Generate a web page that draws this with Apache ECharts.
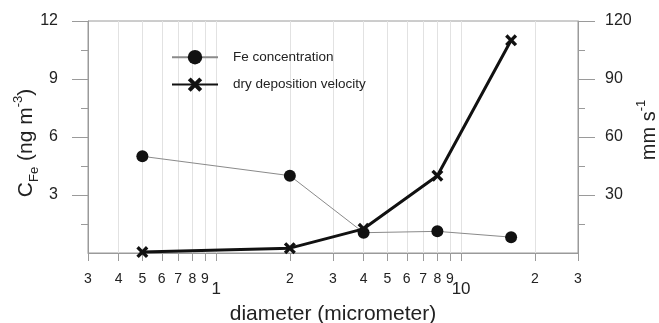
<!DOCTYPE html>
<html>
<head>
<meta charset="utf-8">
<script src="https://cdn.jsdelivr.net/npm/echarts@6/dist/echarts.min.js"></script>
<style>
html,body{margin:0;padding:0;background:#fff;}
#chart{width:659px;height:323px;}
</style>
</head>
<body>
<div id="chart"></div>
<script>
// ---- data ----
const diameters = [0.5, 2, 4, 8, 16];
const feConcentration = [5.0, 4.0, 1.05, 1.12, 0.82];
const depositionVelocity = [0.5, 2.5, 12.5, 40, 110];
const xTickValues = [0.3,0.4,0.5,0.6,0.7,0.8,0.9,1,2,3,4,5,6,7,8,9,10,20,30];
const xTickLabels = ['3','4','5','6','7','8','9','1','2','3','4','5','6','7','8','9','10','2','3'];
const xMajorValues = [1, 10];
const leftTicks = [3, 6, 9, 12];
const rightTicks = [30, 60, 90, 120];
const seriesNames = ['Fe concentration', 'dry deposition velocity'];

const FONT = 'Liberation Sans, Arial, sans-serif';
const AXIS_COLOR = '#9a9a9a';
const xSymbol = 'path://M2,0 L5,3 L8,0 L10,2 L7,5 L10,8 L8,10 L5,7 L2,10 L0,8 L3,5 L0,2 Z';

function pair(xs, ys){ return xs.map((x,i)=>[x, ys[i]]); }

const chart = echarts.init(document.getElementById('chart'));
chart.setOption({
  animation: false,
  backgroundColor: '#fff',
  textStyle: { fontFamily: FONT },
  grid: { left: 88, right: 81, top: 21, bottom: 70, show: true, borderColor: AXIS_COLOR, borderWidth: 1, containLabel: false, outerBoundsMode: 'none' },
  legend: {
    orient: 'vertical', left: 171, top: 50, padding: 0, itemWidth: 46, itemHeight: 18, itemGap: 13,
    textStyle: { fontSize: 13.5, color: '#222', fontFamily: FONT, padding: [0,0,0,10] },
    data: seriesNames
  },
  xAxis: {
    type: 'log', logBase: 10, min: 0.3, max: 30,
    name: 'diameter (micrometer)', nameLocation: 'middle', nameGap: 51, nameMoveOverlap: false,
    nameTextStyle: { fontSize: 21, color: '#222', fontFamily: FONT },
    axisLine: { show: true, lineStyle: { color: AXIS_COLOR, width: 1 } },
    axisTick: { show: true, length: 8, customValues: xTickValues, lineStyle: { color: AXIS_COLOR } },
    axisLabel: {
      customValues: xTickValues, margin: 19, color: '#222', fontFamily: FONT,
      formatter: function (v) {
        let best = 0, bd = Infinity;
        xTickValues.forEach((t,i)=>{ const d=Math.abs(Math.log10(t)-Math.log10(v)); if(d<bd){bd=d;best=i;} });
        const isMajor = xMajorValues.indexOf(xTickValues[best]) >= 0;
        return isMajor ? '{b|' + xTickLabels[best] + '}' : '{n|' + xTickLabels[best] + '}';
      },
      rich: {
        n: { fontSize: 14, lineHeight: 14, color: '#222', fontFamily: FONT },
        b: { fontSize: 17, lineHeight: 34, color: '#222', fontFamily: FONT }
      }
    },
    splitLine: { show: true, lineStyle: { color: '#e2e2e2', width: 1 } },
    minorTick: { show: false }, minorSplitLine: { show: false }
  },
  yAxis: [{
    type: 'value', position: 'left', min: 0, max: 12, interval: 3,
    name: '{m|C}{s|Fe}{m| (ng m}{p|-3}{m|)}', nameLocation: 'middle', nameGap: 47, nameRotate: 90, nameMoveOverlap: false,
    nameTextStyle: { padding: [0, 12, 0, 0], rich: {
      m: { fontSize: 21, lineHeight: 29, color: '#222', fontFamily: FONT },
      s: { fontSize: 13, lineHeight: 13, verticalAlign: 'bottom', color: '#222', fontFamily: FONT },
      p: { fontSize: 13, lineHeight: 13, verticalAlign: 'top', color: '#222', fontFamily: FONT }
    } },
    axisLine: { show: true, lineStyle: { color: AXIS_COLOR, width: 1 } },
    axisTick: { show: true, length: 16, customValues: leftTicks, lineStyle: { color: AXIS_COLOR } },
    minorTick: { show: true, splitNumber: 2, length: 7, lineStyle: { color: AXIS_COLOR } },
    axisLabel: { customValues: leftTicks, margin: 30, fontSize: 16, color: '#222', fontFamily: FONT },
    splitLine: { show: false }
  }, {
    type: 'value', position: 'right', min: 0, max: 120, interval: 30,
    name: '{m|mm s}{p|-1}', nameLocation: 'middle', nameGap: 57, nameRotate: 90, nameMoveOverlap: false,
    nameTextStyle: { padding: [0, 0, 0, 14], rich: {
      m: { fontSize: 20, lineHeight: 28, color: '#222', fontFamily: FONT },
      p: { fontSize: 13, lineHeight: 13, verticalAlign: 'top', color: '#222', fontFamily: FONT }
    } },
    axisLine: { show: true, lineStyle: { color: AXIS_COLOR, width: 1 } },
    axisTick: { show: true, length: 17, customValues: rightTicks, lineStyle: { color: AXIS_COLOR } },
    minorTick: { show: true, splitNumber: 2, length: 7, lineStyle: { color: AXIS_COLOR } },
    axisLabel: { customValues: rightTicks, margin: 27, fontSize: 16, color: '#222', fontFamily: FONT },
    splitLine: { show: false }
  }],
  series: [{
    name: seriesNames[0], type: 'line', yAxisIndex: 0,
    data: pair(diameters, feConcentration),
    symbol: 'circle', symbolSize: 12,
    itemStyle: { color: '#111' },
    lineStyle: { color: '#8a8a8a', width: 1 },
    z: 3
  }, {
    name: seriesNames[1], type: 'line', yAxisIndex: 1,
    data: pair(diameters, depositionVelocity),
    symbol: xSymbol, symbolSize: 12,
    itemStyle: { color: '#111' },
    lineStyle: { color: '#111', width: 3 },
    z: 4
  }]
});
</script>
</body>
</html>
